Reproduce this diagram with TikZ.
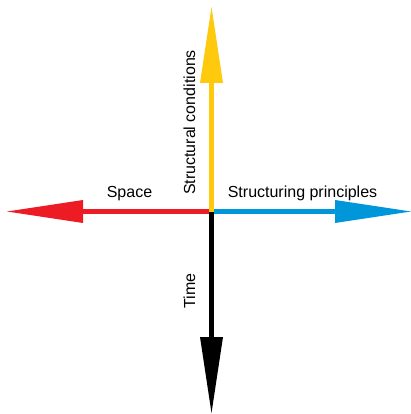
\documentclass[tikz,border=0pt]{standalone}
\usepackage{fontspec}
\setmainfont{Liberation Sans}
\usepackage{tikz}
\usetikzlibrary{arrows.meta}
\definecolor{axisCond}{HTML}{FFC90E}
\definecolor{axisSpace}{HTML}{ED1C24}
\definecolor{axisPrinc}{HTML}{0096DA}
\definecolor{axisTime}{HTML}{000000}
\tikzset{
  axisline/.style={-{Triangle[length=76pt, width=23pt, line width=0pt]}, line width=5pt},
  axislab/.style={font=\fontsize{16pt}{19pt}\selectfont, inner sep=0pt, anchor=base}
}

\begin{document}
\begin{tikzpicture}[x=1pt, y=-1pt]
\useasboundingbox (0,0) rectangle (411,414);
\coordinate (o) at (211.5,211.5);
\coordinate (condEnd) at (211.5,7);
\coordinate (spaceEnd) at (7,211.5);
\coordinate (princEnd) at (411,211.5);
\coordinate (timeEnd) at (211.5,413);

\draw[axisline, draw=axisSpace, fill=axisSpace] (o) -- (spaceEnd);
\draw[axisline, draw=axisPrinc, fill=axisPrinc] (o) -- (princEnd);
\draw[axisline, draw=axisTime, fill=axisTime] (o) -- (timeEnd);
\draw[axisline, draw=axisCond, fill=axisCond] (o) -- (condEnd);

\node[axislab] (space) at (129.5,197.5) {Space};
\node[axislab] (princ) at (302.5,197.5) {Structuring principles};
\node[axislab, rotate=90] (cond) at (195,122.5) {Structural conditions};
\node[axislab, rotate=90] (time) at (195,291) {Time};
\end{tikzpicture}
\end{document}
